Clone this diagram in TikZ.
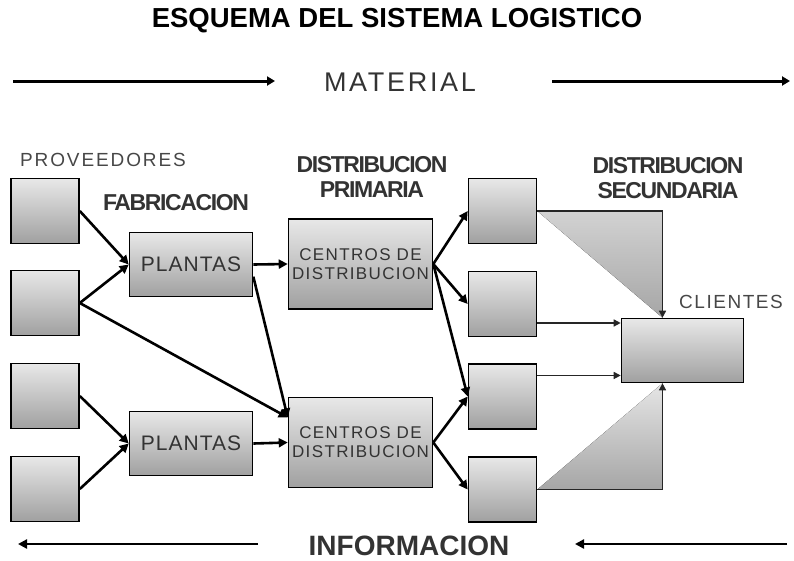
\documentclass[tikz,border=0pt]{standalone}
\usepackage{fontspec}
\setmainfont{Liberation Sans}
\usetikzlibrary{arrows.meta}
\definecolor{texto}{HTML}{333333}
\definecolor{claro}{HTML}{E8E8E8}
\definecolor{oscuro}{HTML}{A0A0A0}

\begin{document}
\begin{tikzpicture}[x=1pt,y=-1pt,
  caja/.style={draw=black,line width=1.6pt,top color=claro,bottom color=oscuro,inner sep=0pt,align=center,text=texto},
  chica/.style={caja,minimum width=68pt,minimum height=65pt},
  planta/.style={caja,minimum width=123pt,minimum height=64pt,font={\fontsize{21}{24}\selectfont\addfontfeature{LetterSpace=5}}},
  centro/.style={caja,minimum width=144pt,minimum height=90pt,font={\fontsize{17}{19}\selectfont\addfontfeature{LetterSpace=8}}},
  etapa/.style={text=texto,align=center,font={\fontsize{23}{25}\selectfont\bfseries\addfontfeature{LetterSpace=-6}}},
  rotulo/.style={text=texto!90,font={\fontsize{19}{22}\selectfont\addfontfeature{LetterSpace=10}}},
  flecha/.style={line width=2.6pt,-{Triangle[length=9pt,width=9pt]}},
  fina/.style={line width=1.4pt,draw=black!85,-{Triangle[length=7pt,width=7pt]}}
]
\useasboundingbox (0,0) rectangle (794,560);

%titulo
\node[font={\fontsize{27.5}{30}\selectfont\bfseries}] (tit) at (397,21) {ESQUEMA DEL SISTEMA LOGISTICO};

%material
\node[text=texto,font={\fontsize{27}{30}\selectfont\addfontfeature{LetterSpace=10}}] (mat) at (400,82) {MATERIAL};
\coordinate (mL1) at (13,81);
\coordinate (mL2) at (275,81);
\coordinate (mR1) at (552,81);
\coordinate (mR2) at (790,81);
\draw[line width=3pt,-{Triangle[length=8pt,width=9pt]}] (mL1) -- (mL2);
\draw[line width=3pt,-{Triangle[length=8pt,width=9pt]}] (mR1) -- (mR2);

%etiquetas
\node[rotulo] (prov) at (103,160) {PROVEEDORES};
\node[etapa] (fab) at (176,203) {FABRICACION};
\node[etapa] (dprim) at (372,177) {DISTRIBUCION\\PRIMARIA};
\node[etapa] (dsec) at (668,178) {DISTRIBUCION\\SECUNDARIA};
\node[rotulo,font={\fontsize{19}{22}\selectfont\addfontfeature{LetterSpace=8}}] (cli) at (731,302) {CLIENTES};

%proveedores
\node[chica] (p1) at (45,211) {};
\node[chica] (p2) at (45,303) {};
\node[chica] (p3) at (45,396) {};
\node[chica] (p4) at (45,489) {};

%plantas
\node[planta] (pl1) at (191,264.5) {PLANTAS};
\node[planta] (pl2) at (191,443.5) {PLANTAS};

%centros
\node[centro] (c1) at (360.5,264) {CENTROS DE\\DISTRIBUCION};
\node[centro] (c2) at (360.5,442.5) {CENTROS DE\\DISTRIBUCION};

%secundaria
\node[chica] (s1) at (502.5,211) {};
\node[chica] (s2) at (502.5,304) {};
\node[chica] (s3) at (502.5,396.5) {};
\node[chica] (s4) at (502.5,489.5) {};

%clientes
\node[caja,minimum width=122pt,minimum height=64pt] (cl) at (682.5,350.5) {};

%triangulos
\fill[top color=gray!35,bottom color=gray!70] (s1.east) -| ([xshift=-20pt]cl.north) -- cycle;
\fill[top color=gray!20,bottom color=gray!70] (s4.east) -| ([xshift=-20pt]cl.south) -- cycle;
\draw[fina] (s1.east) -| ([xshift=-20pt]cl.north);
\draw[fina] (s4.east) -| ([xshift=-20pt]cl.south);
\draw[fina] (s2.east |- cl.156) -- (cl.156);
\draw[fina] (s3.east |- cl.202) -- (cl.202);

%flechas
\draw[flecha] (p1.east) -- (pl1.west);
\draw[flecha] (p2.east) -- (pl1.west);
\draw[flecha] (p2.east) -- (c2.161);
\draw[flecha] (p3.east) -- (pl2.west);
\draw[flecha] (p4.east) -- (pl2.west);
\draw[flecha] (pl1.east) -- (c1.west);
\draw[flecha] (pl1.-11) -- (c2.161);
\draw[flecha] (pl2.east) -- (c2.west);
\draw[flecha] (c1.east) -- (s1.west);
\draw[flecha] (c1.east) -- (s2.west);
\draw[flecha] (c1.east) -- (s3.west);
\draw[flecha] (c2.east) -- (s3.west);
\draw[flecha] (c2.east) -- (s4.west);

%informacion
\node[text=texto,font={\fontsize{28}{30}\selectfont\bfseries}] (info) at (409,546) {INFORMACION};
\coordinate (iL1) at (18,544);
\coordinate (iL2) at (258,544);
\coordinate (iR1) at (575,544);
\coordinate (iR2) at (787,544);
\draw[flecha] (iL2) -- (iL1);
\draw[flecha] (iR2) -- (iR1);
\end{tikzpicture}
\end{document}
